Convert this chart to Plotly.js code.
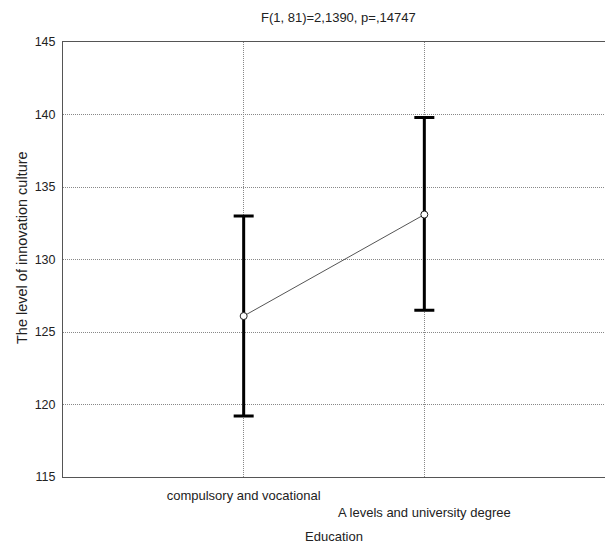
<!DOCTYPE html>
<html>
<head>
<meta charset="utf-8">
<script src="https://cdn.plot.ly/plotly-3.0.1.min.js"></script>
<style>html,body{margin:0;padding:0;background:#fff}#chart{width:605px;height:544px}</style>
</head>
<body>
<div id="chart"></div>
<script>
const categories = ["compulsory and vocational", "A levels and university degree"];
const tickLabels = ["compulsory and vocational", "<br>A levels and university degree"];
const means = [126.1, 133.1];
const upper = [133.0, 139.8];
const lower = [119.2, 126.5];
const chartTitle = "F(1, 81)=2,1390, p=,14747";
const xTitle = "Education";
const yTitle = "The level of innovation culture";
const yTicks = [115, 120, 125, 130, 135, 140, 145];

const xPos = categories.map((c, i) => i);

const trace = {
  x: xPos,
  y: means,
  type: "scatter",
  mode: "lines+markers",
  line: {color: "#555", width: 1},
  marker: {symbol: "circle", size: 7, color: "#fff", line: {color: "#222", width: 1}},
  error_y: {
    type: "data",
    symmetric: false,
    array: upper.map((u, i) => u - means[i]),
    arrayminus: lower.map((l, i) => means[i] - l),
    color: "#000",
    thickness: 3,
    width: 10
  },
  hoverinfo: "skip"
};

const fam = "Liberation Sans, Arial, sans-serif";
const font = {family: fam, size: 13, color: "#222"};

const layout = {
  width: 605,
  height: 544,
  margin: {l: 63, r: 0, t: 42, b: 67},
  paper_bgcolor: "#fff",
  plot_bgcolor: "#fff",
  showlegend: false,
  font: font,
  title: {
    text: chartTitle,
    font: font,
    x: 0.508, xref: "paper", xanchor: "center",
    y: 1 - 17/544, yref: "container", yanchor: "middle"
  },
  xaxis: {
    range: [-1, 2],
    tickvals: xPos,
    ticktext: tickLabels,
    ticks: "",
    showgrid: true,
    gridcolor: "#888",
    griddash: "1px,1px",
    gridwidth: 1,
    zeroline: false,
    showline: true,
    linecolor: "#555",
    linewidth: 1,
    mirror: true,
    tickfont: font,
    ticklabelstandoff: 6,
    title: {text: xTitle, font: font, standoff: 14}
  },
  yaxis: {
    range: [115, 145],
    tickvals: yTicks,
    ticks: "",
    showgrid: true,
    gridcolor: "#888",
    griddash: "1px,1px",
    gridwidth: 1,
    zeroline: false,
    showline: true,
    linecolor: "#555",
    linewidth: 1,
    mirror: true,
    tickfont: {family: fam, size: 12.5, color: "#222"},
    ticklabelstandoff: 4
  },
  annotations: [{
    text: yTitle,
    textangle: -90,
    xref: "paper", x: 0, xanchor: "center", xshift: -41,
    yref: "paper", y: (477.5 - 248) / 436, yanchor: "middle",
    showarrow: false,
    font: {family: fam, size: 14.5, color: "#222"}
  }]
};

Plotly.newPlot("chart", [trace], layout, {displayModeBar: false, staticPlot: true});
</script>
</body>
</html>
